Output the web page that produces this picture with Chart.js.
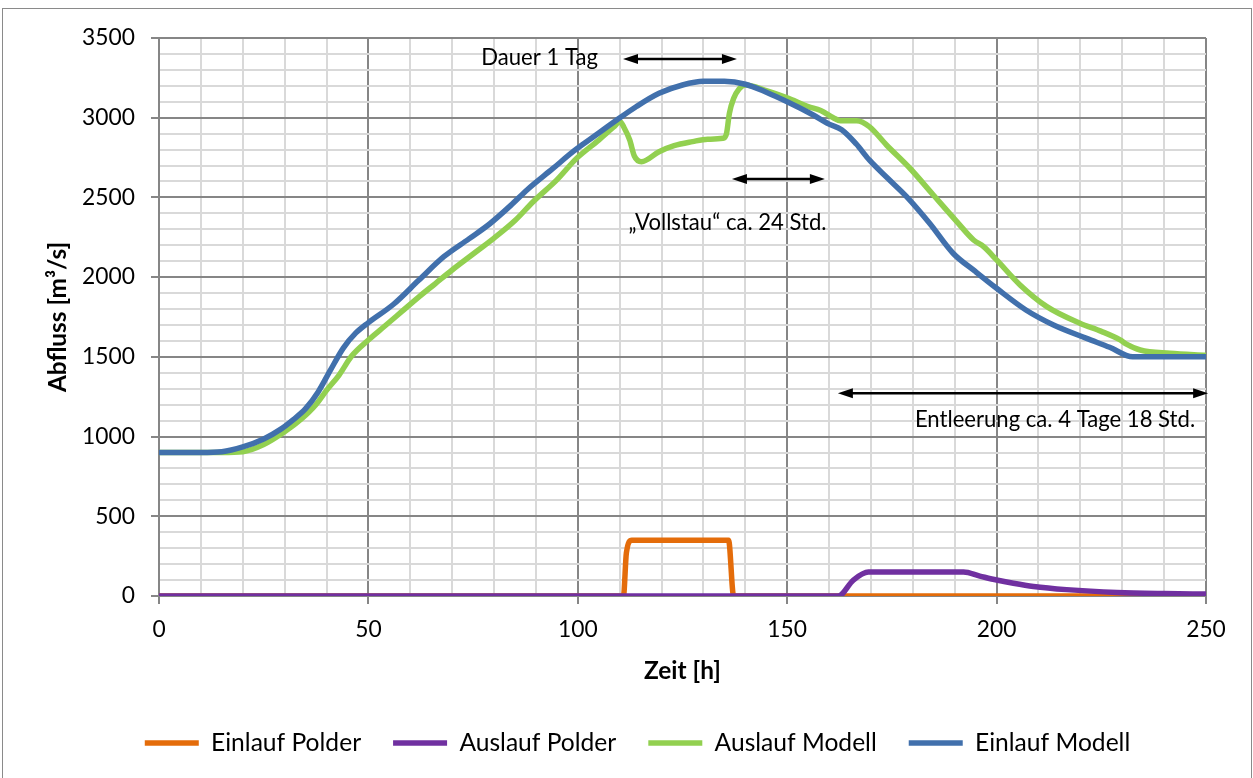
<!DOCTYPE html>
<html><head><meta charset="utf-8">
<script src="https://cdn.jsdelivr.net/npm/chart.js@4.4.1/dist/chart.umd.min.js"></script>
<style>
html,body{margin:0;padding:0;background:#fff;}
#wrap{position:relative;width:1253px;height:778px;overflow:hidden;background:#fff;}
#frame{position:absolute;left:2px;top:8px;width:1250px;height:800px;border:1.5px solid #8a8a8a;box-sizing:border-box;}
canvas{position:absolute;left:0;top:0;}
</style></head><body>
<div id="wrap"><div id="frame"></div><canvas id="c" width="1253" height="778"></canvas></div>
<script>
// ---- data (hours, m³/s) ----
const einlaufPolderT = [0, 110.9, 111.6, 112.9, 136.0, 137.2, 250];
const einlaufPolderQ = [0, 0, 270, 350, 350, 0, 0];

const auslaufPolderT = [0, 162.2, 165.8, 169.4, 192.1, 196, 200, 204, 208.8, 216.7, 228.7, 240, 250];
const auslaufPolderQ = [0, 0, 100, 150, 150, 125, 100, 80, 60, 40, 22, 15, 12];

const auslaufModellT = [0, 15, 20, 25, 30, 34, 37.4, 40, 43, 46, 50, 54, 58, 62, 66, 70, 75, 80, 85, 89.4, 95, 99.7, 105, 108.5, 110.1, 111, 112.4, 113.5, 115.2, 119.4, 123, 127.4, 131, 134.6, 135.5, 136.2, 137.2, 138.5, 140, 145, 150, 155, 158, 161, 162.7, 166.6, 169.6, 173.7, 179.3, 184.9, 190.5, 194.5, 196.9, 200, 205.6, 212, 219.9, 225, 229.5, 231, 234.3, 241.4, 250];
const auslaufModellQ = [900, 900, 905, 950, 1030, 1110, 1198, 1290, 1386, 1505, 1606, 1695, 1785, 1875, 1960, 2045, 2145, 2245, 2355, 2475, 2610, 2745, 2860, 2940, 2975, 2940, 2860, 2760, 2724, 2787, 2825, 2850, 2865, 2871, 2900, 3028, 3120, 3180, 3205, 3170, 3125, 3070, 3045, 3000, 2981, 2981, 2944, 2829, 2683, 2515, 2348, 2233, 2191, 2108, 1951, 1815, 1711, 1660, 1606, 1580, 1543, 1522, 1510];

const einlaufModellT = [0, 10, 15, 20, 25, 29, 32, 35, 38, 41, 44, 47, 50, 56, 62, 68, 74, 79, 84, 88, 94, 99, 104, 109.3, 114, 119.4, 125, 130, 135, 140, 145, 150, 156, 160, 163, 166.5, 169.6, 174, 178.5, 184, 189.6, 195, 200, 207, 213.6, 221.5, 227, 232.5, 250];
const einlaufModellQ = [900, 900, 905, 935, 985, 1045, 1105, 1175, 1280, 1420, 1555, 1650, 1715, 1830, 1980, 2128, 2240, 2335, 2450, 2550, 2680, 2790, 2885, 2985, 3070, 3153, 3205, 3228, 3228, 3210, 3160, 3100, 3020, 2960, 2925, 2835, 2735, 2620, 2505, 2338, 2150, 2034, 1930, 1794, 1700, 1616, 1560, 1500, 1500];

const seriesNames = ['Einlauf Polder', 'Auslauf Polder', 'Auslauf Modell', 'Einlauf Modell'];
const seriesColors = ['#E46C0A', '#7030A0', '#92D050', '#4170AC'];

const xTickLabels = [0, 50, 100, 150, 200, 250];
const yTickLabels = [0, 500, 1000, 1500, 2000, 2500, 3000, 3500];

// annotations: [from h, to h, at Q]
const arrows = [[110.8, 138.0, 3368], [136.8, 159.0, 2616], [162.1, 250.5, 1271]];
const notes = [
  {text: 'Dauer 1 Tag', h: 104.8, q: 3375, align: 'right'},
  {text: '\u201EVollstau\u201C ca. 24 Std.', h: 135.75, q: 2343, align: 'center'},
  {text: 'Entleerung ca. 4 Tage 18 Std.', h: 247.4, q: 1104, align: 'right'}
];

// ---- fonts ----
const FONT = 'Lato, "Open Sans", sans-serif';
const mctx = document.createElement('canvas').getContext('2d');
function fitSize(text, weight, w) { mctx.font = weight + ' 100px ' + FONT; return Math.round(1000 * w / mctx.measureText(text).width) / 10; }
const tickSize = fitSize('3500', 'normal', 53);
const legendSize = fitSize('Einlauf Polder', 'normal', 150);
const titleSize = fitSize('Zeit [h]', 'bold', 77);
const noteSize = fitSize('Entleerung ca. 4 Tage 18 Std.', 'normal', 280);

const MAJOR = '#868686', MINOR = '#d9d9d9';
const pts = (t, q) => t.map((v, i) => ({x: v, y: q[i]}));

let xH = 120;
const titleLH = titleSize * 1.2;

const notesPlugin = {
  id: 'notes',
  afterDatasetsDraw(chart) {
    const {ctx, scales: {x, y}} = chart;
    ctx.save();
    ctx.strokeStyle = '#000'; ctx.fillStyle = '#000'; ctx.lineWidth = 2.5;
    arrows.forEach(([a, b, q]) => {
      const x1 = x.getPixelForValue(a), x2 = x.getPixelForValue(b), yy = y.getPixelForValue(q);
      const L = 15, W = 5;
      ctx.beginPath(); ctx.moveTo(x1 + L - 2, yy); ctx.lineTo(x2 - L + 2, yy); ctx.stroke();
      ctx.beginPath(); ctx.moveTo(x1, yy); ctx.lineTo(x1 + L, yy - W); ctx.lineTo(x1 + L, yy + W); ctx.closePath(); ctx.fill();
      ctx.beginPath(); ctx.moveTo(x2, yy); ctx.lineTo(x2 - L, yy - W); ctx.lineTo(x2 - L, yy + W); ctx.closePath(); ctx.fill();
    });
    ctx.font = noteSize + 'px ' + FONT; ctx.textBaseline = 'middle';
    notes.forEach(n => { ctx.textAlign = n.align; ctx.fillText(n.text, x.getPixelForValue(n.h), y.getPixelForValue(n.q)); });
    ctx.restore();
  }
};

const order = [3, 2, 1, 0];
const datasets = [
  [einlaufPolderT, einlaufPolderQ], [auslaufPolderT, auslaufPolderQ],
  [auslaufModellT, auslaufModellQ], [einlaufModellT, einlaufModellQ]
].map(([t, q], i) => ({
  label: seriesNames[i], data: pts(t, q), borderColor: seriesColors[i], backgroundColor: seriesColors[i],
  borderWidth: 5.5, pointRadius: 0, fill: false, cubicInterpolationMode: 'monotone',
  borderCapStyle: 'round', borderJoinStyle: 'round', order: order[i]
}));

const gridColor = c => (c.tick && Math.round(c.tick.value) % (c.scale.axis === 'x' ? 50 : 500) === 0) ? MAJOR : MINOR;
const tickColor = c => (c.tick && Math.round(c.tick.value) % (c.scale.axis === 'x' ? 50 : 500) === 0) ? MAJOR : 'rgba(0,0,0,0)';

const chart = new Chart(document.getElementById('c'), {
  type: 'line',
  data: {datasets},
  options: {
    responsive: false, animation: false, devicePixelRatio: 1,
    layout: {padding: {left: 22, right: 0, top: 30, bottom: 10}},
    plugins: {
      tooltip: {enabled: false},
      legend: {
        position: 'bottom',
        labels: {
          usePointStyle: true, pointStyle: 'line', pointStyleWidth: 54, padding: 32,
          color: '#000', font: {family: FONT, size: legendSize},
          sort: (a, b) => a.datasetIndex - b.datasetIndex
        }
      }
    },
    scales: {
      x: {
        type: 'linear', min: 0, max: 250,
        afterFit: s => { s.height = xH; },
        ticks: {stepSize: 10, autoSkip: false, maxRotation: 0, padding: 12, color: '#000',
          font: {family: FONT, size: tickSize},
          callback: v => xTickLabels.includes(Math.round(v)) ? String(Math.round(v)) : ''},
        grid: {color: gridColor, tickColor: tickColor, lineWidth: 2, tickLength: 8},
        border: {color: MAJOR, width: 2},
        title: {display: true, text: 'Zeit [h]', color: '#000', font: {family: FONT, size: titleSize, weight: 'bold'}, padding: {top: 0, bottom: 20}}
      },
      y: {
        type: 'linear', min: 0, max: 3500,
        afterFit: s => { s.width = 137; },
        ticks: {stepSize: 100, autoSkip: false, padding: 16, color: '#000',
          font: {family: FONT, size: tickSize},
          callback: v => yTickLabels.includes(Math.round(v)) ? String(Math.round(v)) : ''},
        grid: {color: gridColor, tickColor: tickColor, lineWidth: 2, tickLength: 8},
        border: {color: MAJOR, width: 2},
        title: {display: true, text: 'Abfluss [m\u00B3/s]', color: '#000', font: {family: FONT, size: titleSize, weight: 'bold'}, padding: {top: 36 - titleLH / 2, bottom: 0}}
      },
      r2: {
        type: 'linear', position: 'right', display: true,
        afterFit: s => { s.width = 47; },
        grid: {display: false, drawTicks: false}, ticks: {display: false}, border: {display: false}
      }
    }
  },
  plugins: [notesPlugin]
});

for (let i = 0; i < 3; i++) {
  const a = chart.chartArea, L = chart.legend.height;
  const p = chart.options.layout.padding;
  const top = p.top + (38 - a.top);
  xH = 732 - L / 2 - 596;
  const bottom = 778 - 596 - xH - L;
  chart.options.layout.padding = {left: 22, right: 0, top: top, bottom: Math.max(0, bottom)};
  chart.options.scales.x.title.padding = {top: 0, bottom: 596 + xH - 671 - titleLH / 2};
  chart.update('none');
}
</script>
</body></html>
